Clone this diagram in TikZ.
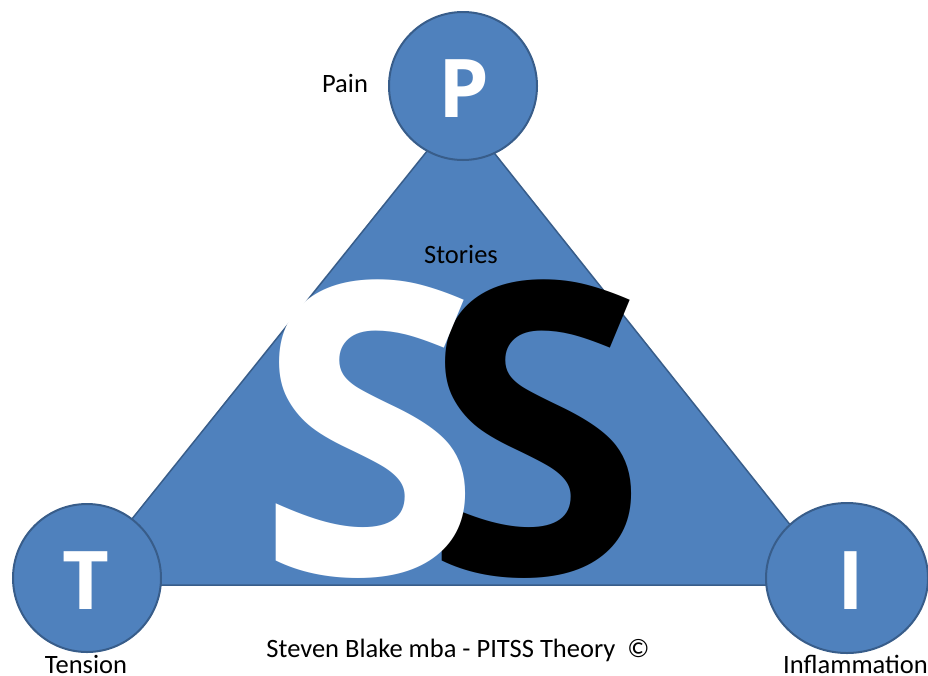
\documentclass[tikz,border=0pt]{standalone}
\usepackage{fontspec}
\usetikzlibrary{shapes.geometric}
\setmainfont{Carlito}
\newfontfamily\bigfont{Open Sans}
\definecolor{pfill}{HTML}{4F81BD}
\definecolor{pline}{HTML}{385D8A}
\begin{document}
\begin{tikzpicture}[x=1pt,y=-1pt,
  blob/.style={circle,draw=pline,fill=pfill,line width=2pt,minimum size=148pt,inner sep=0pt},
  letter/.style={text=white,font=\bigfont\bfseries\fontsize{81}{81}\selectfont,inner sep=0pt,anchor=base},
  lbl/.style={font=\fontsize{26.5}{30}\selectfont,inner sep=0pt,anchor=base},
  bigS/.style={font=\bigfont\bfseries\fontsize{407}{407}\selectfont,inner sep=0pt,anchor=base}]
\useasboundingbox (0,0) rectangle (928,675);
\clip (0,0) rectangle (928,675);
\coordinate (tl) at (79,585);
\coordinate (tt) at (460,110);
\coordinate (tr) at (838,585);
\fill[pfill,draw=pline,line width=1.5pt,line join=round] (tl) -- (tt) -- (tr) -- cycle;
\node[bigS,text=black] (s2) at (536,574) {S};
\node[bigS,text=white] (s1) at (370,574) {S};
\node[blob] (P) at (463,86) {};
\node[blob] (T) at (87,578) {};
\node[ellipse,draw=pline,fill=pfill,line width=2pt,inner sep=0pt,minimum width=162pt,minimum height=150pt] (I) at (847,578) {};
\node[letter] (pl) at (464,117) {P};
\node[letter] (tlx) at (86,609) {T};
\node[letter] (il) at (851,609) {I};
\node[lbl] (pain) at (345,92) {Pain};
\node[lbl] (stories) at (461,263) {Stories};
\node[lbl] (tension) at (86,673) {Tension};
\node[lbl,anchor=base west] (infl) at (783,673) {Inflammation};
\node[lbl] (credit) at (458,657) {Steven Blake mba - PITSS Theory\ \ ©};
\end{tikzpicture}
\end{document}
